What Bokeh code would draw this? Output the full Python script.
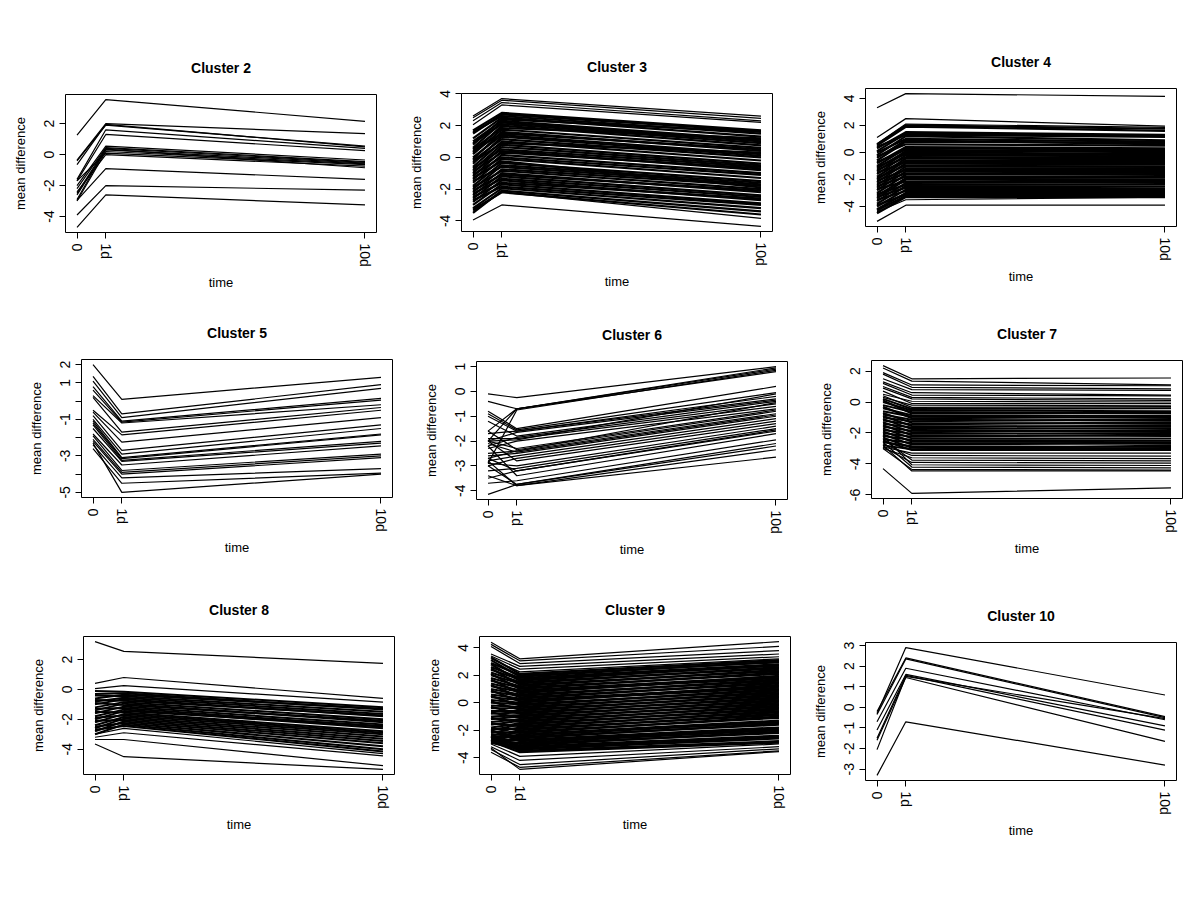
from bokeh.plotting import figure
from bokeh.layouts import row, column
from bokeh.models import FixedTicker, Range1d, Spacer
from bokeh.embed import file_html
from bokeh.resources import INLINE

# ---------------- data ----------------
days = [0, 1, 10]
day_labels = ["0", "1d", "10d"]

# Cluster 2
c2_d0 = [1.25, -0.35, -0.4, -0.65, -1.6, -1.7, -2.0, -2.2, -2.5, -2.6, -3.0, -1.7, -2.4, -2.9, -2.95, -3.9, -4.7]
c2_d1 = [3.55, 2.0, 1.9, 1.95, 1.6, 1.3, 0.55, 0.45, 0.4, 0.3, 0.2, 0.1, 0.0, 0.35, -0.9, -2.0, -2.6]
c2_d10 = [2.15, 1.35, 0.55, 0.5, 0.4, 0.25, -0.35, -0.45, -0.5, -0.55, -0.6, -0.65, -0.75, -0.85, -1.6, -2.3, -3.25]
c2_band_d0, c2_band_d1, c2_band_d10 = [], [], []

# Cluster 3 (outer lines + dense band)
c3_d0 = [2.6, 2.5, 2.3, 2.05, -3.95, -3.4]
c3_d1 = [3.7, 3.6, 3.45, 3.3, -3.0, -2.2]
c3_d10 = [2.6, 2.45, 2.3, 2.2, -4.35, -3.85]
c3_band_d0 = [1.7, 1.5, 1.6, 1.2, 0.8, 1.0, 0.6, 0.9, 0.3, 0.5, 0.2, -0.1, 0.4, 0.0, -0.4, -0.2, -0.6, -0.3,
              -0.8, -1.0, -0.7, -1.2, -0.9, -1.4, -1.1, -1.6, -1.3, -1.8, -2.0, -1.5, -2.2, -1.9, -2.4, -2.1,
              -2.6, -2.3, -2.8, -2.5, -3.0, -2.7, -3.2, -3.5, -3.3]
c3_band_d1 = [2.8, 2.7, 2.6, 2.5, 2.4, 2.3, 2.2, 2.1, 2.0, 1.85, 1.75, 1.6, 1.5, 1.4, 1.3, 1.15, 1.0, 0.9, 0.8,
              0.65, 0.5, 0.4, 0.3, 0.15, 0.0, -0.1, -0.25, -0.35, -0.5, -0.6, -0.75, -0.85, -1.0, -1.1, -1.2,
              -1.35, -1.45, -1.6, -1.7, -1.85, -1.95, -2.1, -2.2]
c3_band_d10 = [1.7, 1.65, 1.5, 1.3, 1.6, 1.1, 1.0, 0.9, 0.75, 1.2, 0.6, 0.4, 0.5, 0.2, 0.1, 0.0, -0.2, 0.3,
               -0.4, -0.5, -0.6, -0.8, -0.7, -1.0, -1.1, -1.3, -1.9, -1.5, -1.6, -1.7, -1.8, -2.0, -2.2, -2.1,
               -2.4, -2.5, -2.7, -2.6, -2.9, -3.0, -3.2, -3.4, -3.6]

# Cluster 4
c4_d0 = [3.3, 1.1, 0.65, -5.1, -4.4]
c4_d1 = [4.35, 2.5, 2.1, -3.9, -3.5]
c4_d10 = [4.15, 1.95, 1.85, -3.9, -3.3]
c4_band_d0 = [0.6, 0.5, 0.3, 0.1, 0.4, -0.2, 0.0, -0.4, -0.6, -0.3, -0.8, -1.0, -0.7, -1.2, -1.4, -1.1, -1.6,
              -1.3, -1.8, -2.0, -1.5, -2.2, -1.9, -2.4, -2.6, -2.1, -2.8, -2.3, -3.0, -2.5, -3.2, -3.4, -2.7,
              -3.6, -3.1, -3.8, -3.3, -4.0, -3.5, -4.2, -3.9, -4.3, -4.5]
c4_band_d1 = [2.0, 1.9, 1.5, 1.4, 1.3, 1.2, 1.0, 0.9, 0.8, 0.6, 0.4, 0.3, 0.2, 0.1, 0.0, -0.1, -0.2, -0.35,
              -0.45, -0.6, -0.7, -0.8, -0.95, -1.05, -1.2, -1.3, -1.4, -1.55, -1.65, -1.8, -1.9, -2.0, -2.15,
              -2.25, -2.4, -2.5, -2.6, -2.75, -2.85, -3.0, -3.1, -3.2, -3.3]
c4_band_d10 = [1.75, 1.6, 1.3, 1.2, 1.15, 0.9, 0.8, 0.6, 0.7, 0.5, 0.3, 0.2, 0.0, 0.1, -0.1, -0.2, -0.3, -0.4,
               -0.5, -0.6, -0.7, -0.85, -0.9, -1.05, -1.15, -1.3, -1.4, -1.5, -1.6, -1.75, -1.85, -2.0, -2.1,
               -2.2, -2.35, -2.5, -2.65, -2.7, -2.85, -3.0, -3.1, -3.2, -3.3]

# Cluster 5
c5_d0 = [2.0, 1.35, 1.1, 0.8, 0.6, 0.3, 0.2, -0.5, -0.6, -0.8, -1.0, -1.1, -1.2, -1.3, -1.5, -1.8, -1.9, -2.1,
         -2.2, -2.4, -2.6, -2.3]
c5_d1 = [0.1, -0.7, -0.9, -1.1, -1.15, -1.2, -1.7, -1.85, -2.25, -2.7, -2.9, -3.1, -3.15, -3.25, -3.3, -3.5,
         -3.8, -3.9, -4.0, -4.2, -4.5, -5.0]
c5_d10 = [1.3, 0.9, 0.7, 0.15, 0.05, -0.2, -0.35, -0.5, -0.9, -1.3, -1.5, -1.8, -1.85, -2.2, -2.3, -2.45,
          -2.9, -3.0, -3.1, -3.7, -3.95, -4.0]
c5_band_d0, c5_band_d1, c5_band_d10 = [], [], []

# Cluster 6
c6_d0 = [-0.1, -0.4, -1.6, -2.9, -2.0, -0.8, -0.9, -1.0, -1.7, -2.0, -1.2, -2.2, -1.9, -2.3, -2.0, -1.6, -2.7,
         -2.1, -2.6, -2.8, -3.0, -2.0, -2.9, -3.2, -2.7, -3.5, -2.2, -3.7, -3.0, -4.15, -2.8, -3.4, -2.5, -2.0]
c6_d1 = [-0.25, -0.7, -0.7, -0.75, -0.7, -1.5, -1.55, -1.6, -1.6, -1.65, -1.8, -1.85, -1.9, -2.0, -2.3, -2.35,
         -2.4, -2.45, -2.5, -2.6, -2.7, -2.8, -3.0, -3.1, -3.2, -3.2, -3.4, -3.6, -3.75, -3.75, -3.8, -3.8, -2.4,
         -1.95]
c6_d10 = [1.0, 0.95, 0.9, 0.85, 0.8, 0.2, -0.05, -0.2, -0.3, -0.35, -0.4, -0.5, -0.6, -0.7, -0.75, -0.8, -0.9,
          -0.95, -1.0, -1.1, -1.2, -1.3, -1.4, -1.5, -1.55, -1.6, -1.7, -1.95, -2.1, -2.2, -2.35, -2.65, -0.45,
          -0.1]
c6_band_d0, c6_band_d1, c6_band_d10 = [], [], []

# Cluster 7
c7_d0 = [2.35, -4.3, 2.2, 1.9, 1.8, 1.5, 1.3, 1.2, 1.0, 0.9, 0.5, 0.7, 0.3, 0.4,
         -2.9, -2.7, -3.0, -2.4, -2.9, -2.2, -2.6, -3.0, -2.8]
c7_d1 = [1.5, -5.9, 1.35, 1.1, 0.95, 0.8, 0.6, 0.45, 0.3, 0.2, 0.05, -0.1, -0.2, -0.35,
         -3.3, -3.45, -3.6, -3.75, -3.9, -4.05, -4.2, -4.35, -4.45]
c7_d10 = [1.55, -5.55, 1.1, 1.05, 0.85, 0.75, 0.45, 0.4, 0.2, 0.1, 0.0, -0.1, -0.25, -0.3,
          -3.3, -3.5, -3.65, -3.8, -3.95, -4.1, -4.25, -4.4, -4.45]
c7_band_d0 = [0.2, 0.0, -0.2, 0.1, -0.4, -0.6, -0.3, -0.8, -1.0, -0.7, -1.2, -0.9, -1.4, -1.1, -1.6, -1.3,
              -1.8, -1.5, -2.0, -1.7, -2.2, -1.9, -2.4, -2.1, -2.6, -2.3, -2.8, -2.5]
c7_band_d1 = [-0.45, -0.55, -0.65, -0.75, -0.85, -0.95, -1.05, -1.15, -1.25, -1.35, -1.45, -1.55, -1.65,
              -1.75, -1.85, -1.95, -2.05, -2.15, -2.25, -2.35, -2.45, -2.55, -2.65, -2.75, -2.85, -2.95,
              -3.05, -3.1]
c7_band_d10 = [-0.4, -0.6, -0.75, -0.7, -0.9, -1.0, -0.95, -1.2, -1.1, -1.4, -1.3, -1.6, -1.5, -1.7, -1.9,
               -1.8, -2.0, -2.2, -2.1, -2.35, -2.5, -2.6, -2.7, -2.65, -2.9, -3.0, -2.8, -3.1]

# Cluster 8
c8_d0 = [3.2, 0.4, 0.05, -3.65, -3.35, -3.2, -3.0]
c8_d1 = [2.55, 0.8, 0.25, -4.5, -3.35, -2.9, -2.6]
c8_d10 = [1.75, -0.6, -0.85, -5.35, -5.1, -4.45, -4.3]
c8_band_d0 = [-0.1, -0.3, -0.6, -0.4, -0.8, -1.0, -0.7, -1.2, -1.4, -0.9, -1.6, -1.3, -1.8, -2.0, -1.5, -2.2,
              -1.9, -2.4, -2.6, -2.1, -2.8, -2.5, -3.0, -2.7]
c8_band_d1 = [-0.15, -0.25, -0.35, -0.45, -0.55, -0.65, -0.75, -0.85, -0.95, -1.05, -1.15, -1.25, -1.35,
              -1.45, -1.55, -1.65, -1.75, -1.85, -1.95, -2.05, -2.15, -2.25, -2.35, -2.45]
c8_band_d10 = [-1.2, -1.35, -1.3, -1.5, -1.65, -1.8, -1.75, -2.0, -2.2, -2.1, -2.35, -2.5, -2.6, -2.45, -2.8,
               -2.9, -3.0, -3.15, -3.3, -3.45, -3.6, -3.8, -4.0, -4.15]

# Cluster 9
c9_d0 = [4.4, 4.25, 4.1, 3.55, 3.4, 3.2, -3.0, -3.2, -3.4, -3.6, -3.3]
c9_d1 = [3.2, 3.05, 2.85, 2.65, 2.45, 2.25, -3.9, -4.2, -4.5, -4.7, -4.85]
c9_d10 = [4.45, 4.1, 3.8, 3.55, 3.35, 3.2, -3.0, -3.2, -3.35, -3.5, -3.55]
c9_band_d0 = [3.3, 2.9, 3.1, 2.6, 2.4, 2.8, 2.2, 2.0, 2.5, 1.8, 1.6, 2.1, 1.4, 1.2, 1.7, 1.0, 0.8, 1.3, 0.6,
              0.4, 0.9, 0.2, 0.0, 0.5, -0.2, -0.4, 0.1, -0.6, -0.8, -0.3, -1.0, -1.2, -0.7, -1.4, -1.6, -1.1,
              -1.8, -2.0, -1.5, -2.2, -1.9, -2.4, -2.6, -2.1, -2.8, -2.3, -2.5, -2.9, -2.7, -2.0, -2.8, -2.6,
              -2.9, -2.4, -2.7, -2.9, -2.5, -2.8]
c9_band_d1 = [2.1, 2.0, 1.9, 1.8, 1.7, 1.6, 1.5, 1.4, 1.3, 1.2, 1.1, 1.0, 0.9, 0.8, 0.7, 0.6, 0.5, 0.4, 0.3,
              0.2, 0.1, 0.0, -0.1, -0.2, -0.3, -0.4, -0.5, -0.6, -0.7, -0.8, -0.9, -1.0, -1.1, -1.2, -1.3, -1.4,
              -1.5, -1.6, -1.7, -1.8, -1.9, -2.0, -2.1, -2.2, -2.3, -2.4, -2.5, -2.6, -2.7, -2.8, -2.9, -3.0,
              -3.1, -3.2, -3.3, -3.4, -3.5, -3.6]
c9_band_d10 = [3.1, 2.95, 3.0, 2.8, 2.7, 2.75, 2.5, 2.6, 2.3, 2.4, 2.1, 2.2, 1.9, 1.8, 1.95, 1.6, 1.7, 1.4,
               1.5, 1.2, 1.1, 1.3, 0.9, 1.0, 0.7, 0.8, 0.5, 0.6, 0.3, 0.4, 0.1, 0.2, -0.1, 0.0, -0.3, -0.2,
               -0.5, -0.4, -0.7, -0.6, -0.9, -0.8, -1.1, -1.0, -1.3, -1.4, -1.6, -1.5, -1.8, -1.9, -2.0, -2.2,
               -2.1, -2.4, -2.5, -2.6, -2.8, -2.9]

# Cluster 10
c10_d0 = [-0.3, -0.2, -0.35, -0.7, -1.1, -1.5, -1.6, -2.05, -3.3]
c10_d1 = [2.9, 2.4, 2.35, 1.9, 1.6, 1.55, 1.45, 1.5, -0.7]
c10_d10 = [0.6, -0.45, -0.5, -0.6, -0.9, -1.1, -1.65, -0.55, -2.8]
c10_band_d0, c10_band_d1, c10_band_d10 = [], [], []

c2_yticks = [-4, -2, 0, 2]
c2_ylabels = ["-4", "-2", "0", "2"]
c3_yticks = [-4, -2, 0, 2, 4]
c3_ylabels = ["-4", "-2", "0", "2", "4"]
c4_yticks = [-4, -2, 0, 2, 4]
c4_ylabels = ["-4", "-2", "0", "2", "4"]
c5_yticks = [-5, -4, -3, -2, -1, 0, 1, 2]
c5_ylabels = ["-5", "", "-3", "", "-1", "", "1", "2"]
c6_yticks = [-4, -3, -2, -1, 0, 1]
c6_ylabels = ["-4", "-3", "-2", "-1", "0", "1"]
c7_yticks = [-6, -4, -2, 0, 2]
c7_ylabels = ["-6", "-4", "-2", "0", "2"]
c8_yticks = [-4, -2, 0, 2]
c8_ylabels = ["-4", "-2", "0", "2"]
c9_yticks = [-4, -2, 0, 2, 4]
c9_ylabels = ["-4", "-2", "0", "2", "4"]
c10_yticks = [-3, -2, -1, 0, 1, 2, 3]
c10_ylabels = ["-3", "-2", "-1", "0", "1", "2", "3"]

titles = ["Cluster 2", "Cluster 3", "Cluster 4", "Cluster 5", "Cluster 6",
          "Cluster 7", "Cluster 8", "Cluster 9", "Cluster 10"]

# ---------------- layout / style ----------------
FONT = "Liberation Sans"
FW, FH = 311, 138
col_w = [397, 403, 392]
row_h = [297, 273, 320]
# (border_left, border_top) of each frame inside its cell
cell_offsets = [(65, 94), (64, 93), (65, 88),
                (81, 62), (79, 64), (71, 63),
                (83, 66), (82, 66), (65, 72)]
band_widths = [1.0, 2.2, 2.2, 1.0, 1.0, 2.0, 2.0, 2.2, 1.0]

series = [(c2_d0, c2_d1, c2_d10, c2_band_d0, c2_band_d1, c2_band_d10, c2_yticks, c2_ylabels),
          (c3_d0, c3_d1, c3_d10, c3_band_d0, c3_band_d1, c3_band_d10, c3_yticks, c3_ylabels),
          (c4_d0, c4_d1, c4_d10, c4_band_d0, c4_band_d1, c4_band_d10, c4_yticks, c4_ylabels),
          (c5_d0, c5_d1, c5_d10, c5_band_d0, c5_band_d1, c5_band_d10, c5_yticks, c5_ylabels),
          (c6_d0, c6_d1, c6_d10, c6_band_d0, c6_band_d1, c6_band_d10, c6_yticks, c6_ylabels),
          (c7_d0, c7_d1, c7_d10, c7_band_d0, c7_band_d1, c7_band_d10, c7_yticks, c7_ylabels),
          (c8_d0, c8_d1, c8_d10, c8_band_d0, c8_band_d1, c8_band_d10, c8_yticks, c8_ylabels),
          (c9_d0, c9_d1, c9_d10, c9_band_d0, c9_band_d1, c9_band_d10, c9_yticks, c9_ylabels),
          (c10_d0, c10_d1, c10_d10, c10_band_d0, c10_band_d1, c10_band_d10, c10_yticks, c10_ylabels)]

TOP_BASE = 60  # common top border of every figure; the rest is a spacer


def make_panel(i):
    d0, d1, d10, b0, b1, b10, yticks, ylabels = series[i]
    cw = col_w[i % 3]
    rh = row_h[i // 3]
    bl, bt = cell_offsets[i]
    ys = [[a, b, c] for a, b, c in zip(d0, d1, d10)]
    bys = [[a, b, c] for a, b, c in zip(b0, b1, b10)]
    allv = d0 + d1 + d10 + b0 + b1 + b10
    lo, hi = min(allv), max(allv)
    pad = 0.04 * (hi - lo)
    xpad = 0.04 * (days[-1] - days[0])
    p = figure(frame_width=FW, frame_height=FH, output_backend="svg", toolbar_location=None,
               x_range=Range1d(days[0] - xpad, days[-1] + xpad),
               y_range=Range1d(lo - pad, hi + pad),
               min_border_left=bl, min_border_right=cw - bl - FW,
               min_border_top=TOP_BASE, min_border_bottom=rh - bt - FH,
               title=titles[i])
    if bys:
        p.multi_line(xs=[list(days) for _ in bys], ys=bys, line_color="black",
                     line_width=band_widths[i])
    p.multi_line(xs=[list(days) for _ in ys], ys=ys, line_color="black", line_width=1.2)
    p.background_fill_color = "white"
    p.border_fill_color = "white"
    p.outline_line_color = "black"
    p.outline_line_width = 1
    p.outline_line_alpha = 1.0
    p.xgrid.visible = False
    p.ygrid.visible = False

    p.title.align = "center"
    p.title.text_font = FONT
    p.title.text_font_size = "14px"
    p.title.text_font_style = "bold"
    p.title.text_color = "black"
    p.title.standoff = 37

    for ax in (p.xaxis[0], p.yaxis[0]):
        ax.axis_line_color = None
        ax.major_tick_line_color = "black"
        ax.major_tick_out = 6
        ax.major_tick_in = 0
        ax.minor_tick_line_color = None
        ax.major_label_text_font = FONT
        ax.major_label_text_font_size = "14px"
        ax.major_label_text_color = "black"
        ax.major_label_standoff = 5
        ax.axis_label_text_font = FONT
        ax.axis_label_text_font_size = "13px"
        ax.axis_label_text_font_style = "normal"
        ax.axis_label_text_color = "black"
        ax.major_label_orientation = "vertical"

    xa = p.xaxis[0]
    xa.ticker = FixedTicker(ticks=days)
    xa.major_label_overrides = {d: lab for d, lab in zip(days, day_labels)}
    xa.axis_label = "time"
    xa.axis_label_standoff = 5

    ya = p.yaxis[0]
    ya.ticker = FixedTicker(ticks=yticks)
    ya.major_label_overrides = {t: lab for t, lab in zip(yticks, ylabels)}
    ya.axis_label = "mean difference"
    ya.axis_label_standoff = 14

    gap = bt - TOP_BASE
    return column(Spacer(width=cw, height=gap), p, spacing=0)


cells = [make_panel(i) for i in range(9)]
layout = column(row(*cells[0:3]), row(*cells[3:6]), row(*cells[6:9]))

open("out.html", "w").write(file_html(layout, INLINE, "Clusters"))
